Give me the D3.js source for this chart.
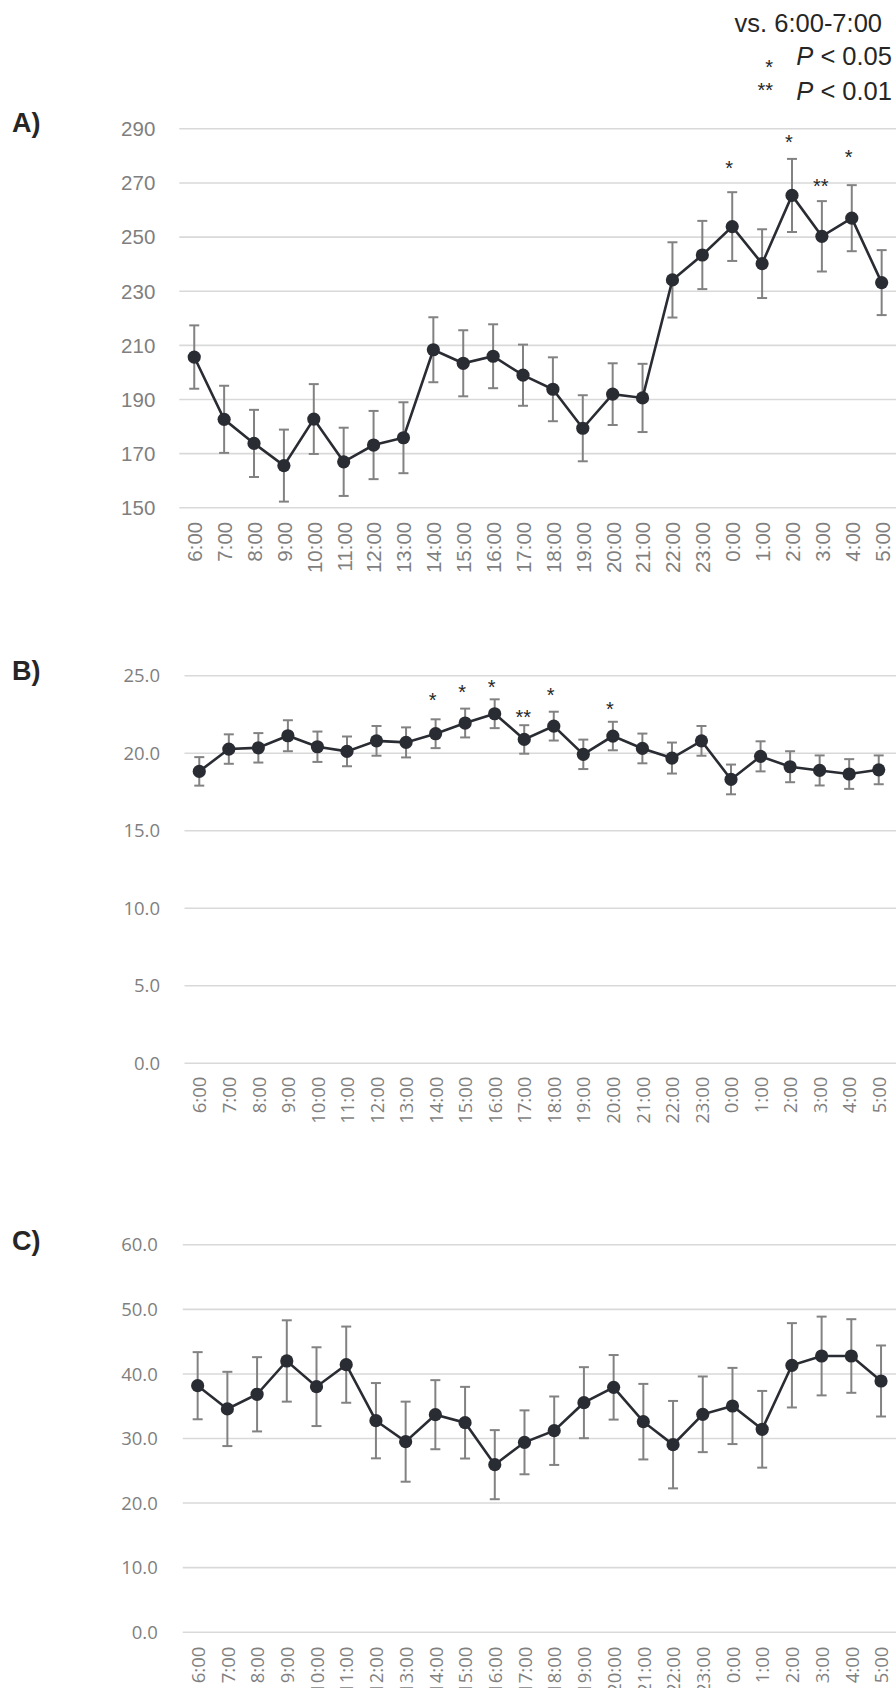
<!DOCTYPE html>
<html>
<head>
<meta charset="utf-8">
<script src="https://cdn.jsdelivr.net/npm/d3@7"></script>
<style>
  html, body { margin: 0; padding: 0; background: #fff; }
  svg { display: block; }
</style>
</head>
<body>
<svg id="chart" width="896" height="1688"></svg>
<script>
// ---------------- DATA ----------------
const hours = ["6:00","7:00","8:00","9:00","10:00","11:00","12:00","13:00","14:00","15:00","16:00","17:00",
               "18:00","19:00","20:00","21:00","22:00","23:00","0:00","1:00","2:00","3:00","4:00","5:00"];

// Panel A
const meanA = [205.5,182.5,173.6,165.4,182.6,166.8,173.0,175.7,208.2,203.2,205.8,198.8,
               193.6,179.2,191.8,190.4,234.0,243.2,253.7,240.0,265.2,250.1,256.8,233.0];
const errA  = [11.7,12.4,12.4,13.3,12.9,12.6,12.6,13.1,12.0,12.2,11.8,11.3,
               11.8,12.2,11.4,12.6,13.9,12.6,12.7,12.7,13.5,13.0,12.2,12.0];
const ticksA = [150,170,190,210,230,250,270,290];
const sigHoursA = ["0:00","2:00","3:00","4:00"];
const sigMarksA = ["*","*","**","*"];
const sigLevelA = [277.1,286.7,270.5,281.4];

// Panel B
const meanB = [18.80,20.24,20.32,21.10,20.39,20.09,20.77,20.67,21.23,21.92,22.52,20.86,
               21.72,19.90,21.08,20.28,19.66,20.77,18.28,19.77,19.10,18.86,18.63,18.90];
const errB  = [0.92,0.95,0.95,1.00,0.98,0.96,0.96,0.97,0.93,0.93,0.93,0.92,
               0.93,0.95,0.92,0.96,1.00,0.96,0.96,0.97,1.00,0.97,0.96,0.93];
const ticksB = [0,5,10,15,20,25];
const sigHoursB = ["14:00","15:00","16:00","17:00","18:00","20:00"];
const sigMarksB = ["*","*","*","**","*","*"];
const sigLevelB = [23.72,24.26,24.54,22.60,24.05,23.14];

// Panel C
const meanC = [38.10,34.50,36.77,41.93,37.95,41.36,32.68,29.43,33.61,32.37,25.87,29.33,
               31.13,35.47,37.85,32.53,28.97,33.67,34.96,31.35,41.26,42.70,42.70,38.83];
const errC  = [5.20,5.75,5.75,6.30,6.10,5.90,5.83,6.20,5.35,5.55,5.35,4.95,
               5.30,5.50,5.00,5.85,6.77,5.86,5.90,5.94,6.53,6.10,5.70,5.50];
const ticksC = [0,10,20,30,40,50,60];

const legendTitle = "vs. 6:00-7:00";
const legendMarks = ["*","**"];
const legendP = ["0.05","0.01"];

// ---------------- DRAW ----------------
const svg = d3.select("#chart");
const gridColor = "#d9d9d9";
const tickColor = "#7f7f7f";
const lineColor = "#2a2c33";
const errColor = "#828282";
const textDark = "#262626";

function panel(cfg) {
  const g = svg.append("g");
  const x = d3.scalePoint().domain(hours).range([cfg.left, cfg.right]).padding(0.5);
  const y = d3.scaleLinear().domain(cfg.domain).range([cfg.bottom, cfg.top]);

  // y axis + gridlines
  const ya = g.append("g").attr("transform", `translate(${cfg.left},0)`)
    .call(d3.axisLeft(y).tickValues(cfg.ticks).tickFormat(cfg.fmt)
      .tickSizeInner(-(896 - cfg.left)).tickSizeOuter(0).tickPadding(cfg.ypad));
  ya.select(".domain").remove();
  ya.selectAll(".tick line").attr("stroke", gridColor).attr("stroke-width", 1.6);
  ya.selectAll(".tick text").attr("fill", tickColor).attr("font-family", cfg.font)
    .attr("font-size", cfg.fs).attr("dy", "0.36em");

  // x axis
  const xa = g.append("g").attr("transform", `translate(0,${cfg.bottom})`)
    .call(d3.axisBottom(x).tickSize(0));
  xa.select(".domain").remove();
  xa.selectAll(".tick text")
    .attr("transform", "rotate(-90)")
    .attr("x", -cfg.xgap).attr("y", 0).attr("dy", "0.36em")
    .attr("text-anchor", "end")
    .attr("fill", tickColor).attr("font-family", cfg.font).attr("font-size", cfg.fs);

  // error bars
  const eb = g.append("g").attr("stroke", errColor).attr("stroke-width", 2).attr("fill", "none");
  hours.forEach((h, i) => {
    const cx = x(h), y1 = y(cfg.mean[i] + cfg.err[i]), y0 = y(cfg.mean[i] - cfg.err[i]);
    eb.append("line").attr("x1", cx).attr("x2", cx).attr("y1", y1).attr("y2", y0);
    eb.append("line").attr("x1", cx - 5).attr("x2", cx + 5).attr("y1", y1).attr("y2", y1);
    eb.append("line").attr("x1", cx - 5).attr("x2", cx + 5).attr("y1", y0).attr("y2", y0);
  });

  // line
  g.append("path").datum(cfg.mean)
    .attr("fill", "none").attr("stroke", lineColor).attr("stroke-width", 2.6)
    .attr("d", d3.line().x((d, i) => x(hours[i])).y(d => y(d)));

  // markers
  g.append("g").selectAll("circle").data(cfg.mean).join("circle")
    .attr("cx", (d, i) => x(hours[i])).attr("cy", d => y(d)).attr("r", 6.6)
    .attr("fill", lineColor);

  // significance marks
  if (cfg.sigHours) {
    g.append("g").selectAll("text").data(cfg.sigHours).join("text")
      .attr("x", (h, i) => x(h) - (cfg.sigMarks[i] === "**" ? 1 : 3))
      .attr("y", (h, i) => y(cfg.sigLevel[i]))
      .attr("dy", "0.6em")
      .attr("text-anchor", "middle")
      .attr("font-family", "Liberation Sans, Arial, sans-serif")
      .attr("font-size", 20).attr("fill", textDark)
      .text((h, i) => cfg.sigMarks[i]);
  }

  // panel label
  svg.append("text").attr("x", 12).attr("y", cfg.labelY)
    .attr("font-family", "Liberation Sans, Arial, sans-serif").attr("font-weight", "bold")
    .attr("font-size", 27).attr("fill", textDark).text(cfg.label);
}

panel({ label: "A)", labelY: 131.5, left: 179.3, right: 896.6, top: 128.3, bottom: 507.3,
        domain: [150, 290], ticks: ticksA, fmt: d3.format("d"), ypad: 24, xgap: 14.5,
        font: "Liberation Sans, Arial, sans-serif", fs: 20.5,
        mean: meanA, err: errA, sigHours: sigHoursA, sigMarks: sigMarksA, sigLevel: sigLevelA });

panel({ label: "B)", labelY: 680, left: 184.5, right: 893.5, top: 675.3, bottom: 1062.7,
        domain: [0, 25], ticks: ticksB, fmt: d3.format(".1f"), ypad: 24.5, xgap: 14,
        font: "Open Sans, sans-serif", fs: 18.5,
        mean: meanB, err: errB, sigHours: sigHoursB, sigMarks: sigMarksB, sigLevel: sigLevelB });

panel({ label: "C)", labelY: 1250, left: 182.8, right: 895.9, top: 1244.3, bottom: 1631.7,
        domain: [0, 60], ticks: ticksC, fmt: d3.format(".1f"), ypad: 25, xgap: 15,
        font: "Open Sans, sans-serif", fs: 18.5,
        mean: meanC, err: errC });

// legend
const lg = svg.append("g").attr("font-family", "Liberation Sans, Arial, sans-serif")
  .attr("fill", textDark).attr("font-size", 25.5);
lg.append("text").attr("x", 882).attr("y", 31.5).attr("text-anchor", "end").text(legendTitle);
const rowsY = [65, 100];
const markY = [74, 97];
legendMarks.forEach((m, i) => {
  lg.append("text").attr("x", 773).attr("y", markY[i]).attr("text-anchor", "end")
    .attr("font-size", 20).text(m);
  const t = lg.append("text").attr("x", 892).attr("y", rowsY[i]).attr("text-anchor", "end");
  t.append("tspan").attr("font-style", "italic").text("P");
  t.append("tspan").text(" < " + legendP[i]);
});
</script>
</body>
</html>
